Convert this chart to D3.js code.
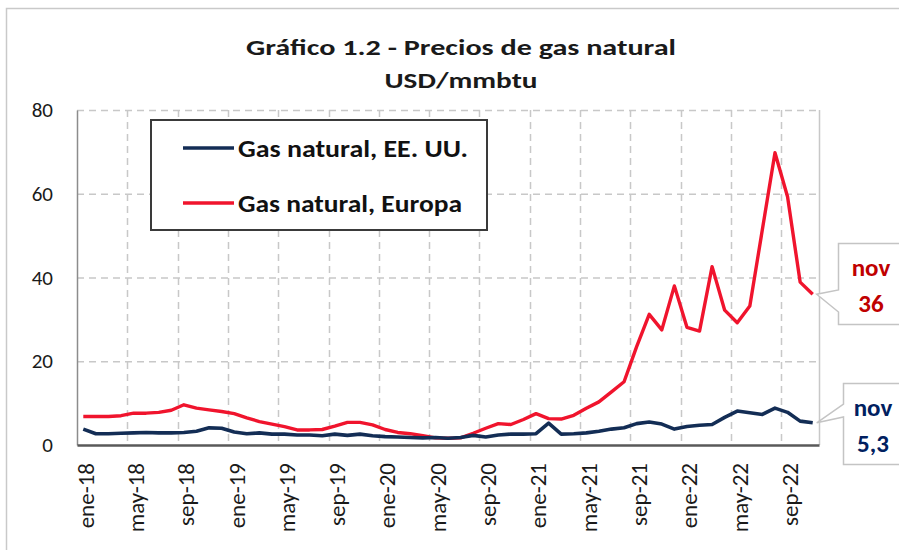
<!DOCTYPE html>
<html>
<head>
<meta charset="utf-8">
<script src="https://cdn.jsdelivr.net/npm/d3@7"></script>
<style>
  html, body { margin: 0; padding: 0; background: #ffffff; }
  svg { display: block; }
  text { font-family: Carlito, Lato, "Open Sans", sans-serif; }
</style>
</head>
<body>
<svg id="chart" width="899" height="550"></svg>
<script>
const categories = [
  "ene-18","feb-18","mar-18","abr-18","may-18","jun-18","jul-18","ago-18","sep-18","oct-18","nov-18","dic-18",
  "ene-19","feb-19","mar-19","abr-19","may-19","jun-19","jul-19","ago-19","sep-19","oct-19","nov-19","dic-19",
  "ene-20","feb-20","mar-20","abr-20","may-20","jun-20","jul-20","ago-20","sep-20","oct-20","nov-20","dic-20",
  "ene-21","feb-21","mar-21","abr-21","may-21","jun-21","jul-21","ago-21","sep-21","oct-21","nov-21","dic-21",
  "ene-22","feb-22","mar-22","abr-22","may-22","jun-22","jul-22","ago-22","sep-22","oct-22","nov-22"
];
const gasEEUU = [
  3.8, 2.7, 2.7, 2.8, 2.9, 3.0, 2.9, 2.9, 3.0, 3.3, 4.1, 4.0,
  3.1, 2.7, 2.9, 2.6, 2.6, 2.4, 2.4, 2.2, 2.6, 2.3, 2.6, 2.2,
  2.0, 1.9, 1.8, 1.7, 1.8, 1.6, 1.8, 2.3, 1.9, 2.4, 2.6, 2.6,
  2.7, 5.2, 2.6, 2.7, 2.9, 3.3, 3.8, 4.1, 5.1, 5.5, 5.0, 3.8,
  4.4, 4.7, 4.9, 6.6, 8.1, 7.7, 7.3, 8.8, 7.8, 5.7, 5.3
];
const gasEuropa = [
  6.8, 6.8, 6.8, 7.0, 7.6, 7.6, 7.8, 8.3, 9.6, 8.8, 8.4, 8.0,
  7.5, 6.5, 5.6, 5.0, 4.4, 3.6, 3.6, 3.7, 4.5, 5.4, 5.4, 4.8,
  3.7, 3.0, 2.7, 2.2, 1.7, 1.6, 1.7, 2.8, 4.0, 5.1, 4.9, 6.1,
  7.5, 6.3, 6.2, 7.1, 8.8, 10.3, 12.7, 15.1, 23.5, 31.2, 27.5, 38.0,
  28.1, 27.2, 42.6, 32.2, 29.2, 33.2, 51.5, 69.8, 59.3, 38.9, 36.0
];
const tickLabels = ["ene-18","may-18","sep-18","ene-19","may-19","sep-19","ene-20","may-20","sep-20","ene-21","may-21","sep-21","ene-22","may-22","sep-22"];
const yTicks = [0, 20, 40, 60, 80];
const seriesNames = ["Gas natural, EE. UU.", "Gas natural, Europa"];
const title1 = "Gráfico 1.2 - Precios de gas natural";
const title2 = "USD/mmbtu";
const lastLabels = [["nov", "5,3"], ["nov", "36"]];

const colUS = "#132d55", colEU = "#f0142d";
const svg = d3.select("#chart");

// outer frame
svg.append("rect").attr("x", 6.5).attr("y", 8.5).attr("width", 1000).attr("height", 1000)
  .attr("fill", "none").attr("stroke", "#c9c9c9").attr("stroke-width", 1.5);

const L = 77, R = 819, T = 110, B = 445;
const x = d3.scaleBand().domain(categories).range([L, R]).paddingInner(0).paddingOuter(0);
const y = d3.scaleLinear().domain([0, 80]).range([B, T]);
const cx = d => x(d) + x.bandwidth() / 2;

// title
svg.append("text").attr("x", 461).attr("y", 55).attr("text-anchor", "middle")
  .attr("font-size", 23).attr("font-weight", "bold").attr("fill", "#1a1a1a")
  .attr("textLength", 430).attr("lengthAdjust", "spacingAndGlyphs").text(title1);
svg.append("text").attr("x", 461).attr("y", 88).attr("text-anchor", "middle")
  .attr("font-size", 23).attr("font-weight", "bold").attr("fill", "#1a1a1a")
  .attr("textLength", 153).attr("lengthAdjust", "spacingAndGlyphs").text(title2);

// horizontal grid
svg.append("g").selectAll("line").data(yTicks.filter(v => v > 0)).join("line")
  .attr("x1", L).attr("x2", R).attr("y1", d => y(d) + 0.5).attr("y2", d => y(d) + 0.5)
  .attr("stroke", "#c8c8c8").attr("stroke-width", 1.5).attr("stroke-dasharray", "7,5");
// vertical grid
const vgrid = categories.filter((c, i) => i > 0 && i % 4 === 0);
svg.append("g").selectAll("line").data(vgrid).join("line")
  .attr("x1", d => Math.round(x(d)) + 0.5).attr("x2", d => Math.round(x(d)) + 0.5)
  .attr("y1", T).attr("y2", B)
  .attr("stroke", "#c8c8c8").attr("stroke-width", 1.5).attr("stroke-dasharray", "7,5");
// right border
svg.append("line").attr("x1", R + 0.5).attr("x2", R + 0.5).attr("y1", T).attr("y2", B)
  .attr("stroke", "#c8c8c8").attr("stroke-width", 1.5);

// y axis
const yAxis = svg.append("g").attr("transform", `translate(${L},0)`)
  .call(d3.axisLeft(y).tickValues(yTicks).tickSize(0).tickPadding(24).tickFormat(d3.format("d")));
yAxis.select(".domain").attr("stroke", "#8c8c8c").attr("stroke-width", 1.5);
yAxis.selectAll("text").attr("font-size", 21).attr("fill", "#1a1a1a")
  .style("font-family", "Carlito, Lato, sans-serif");

// x axis
const xAxis = svg.append("g").attr("transform", `translate(0,${B})`)
  .call(d3.axisBottom(x).tickValues(tickLabels).tickSize(0));
xAxis.select(".domain").attr("stroke", "#595959").attr("stroke-width", 2.5);
xAxis.selectAll("text")
  .attr("transform", "rotate(-90)")
  .attr("text-anchor", "end")
  .attr("x", -18).attr("y", 0).attr("dy", "0.45em").attr("dx", 0)
  .attr("font-size", 23).attr("fill", "#1a1a1a")
  .style("font-family", "Carlito, Lato, sans-serif");

// lines
const line = d3.line().x((d, i) => cx(categories[i])).y(d => y(d));
svg.append("path").datum(gasEuropa).attr("d", line).attr("fill", "none")
  .attr("stroke", colEU).attr("stroke-width", 3.4).attr("stroke-linejoin", "round");
svg.append("path").datum(gasEEUU).attr("d", line).attr("fill", "none")
  .attr("stroke", colUS).attr("stroke-width", 3.6).attr("stroke-linejoin", "round");

// legend
const legendLens = [230, 224];
const lg = svg.append("g");
lg.append("rect").attr("x", 151).attr("y", 120).attr("width", 336).attr("height", 110)
  .attr("fill", "#ffffff").attr("stroke", "#3a3a3a").attr("stroke-width", 2);
[[colUS, 148], [colEU, 203]].forEach(([c, yy], i) => {
  lg.append("line").attr("x1", 183).attr("x2", 234).attr("y1", yy).attr("y2", yy)
    .attr("stroke", c).attr("stroke-width", 3.5);
  lg.append("text").attr("x", 238).attr("y", yy).attr("dy", "0.36em")
    .attr("font-size", 24).attr("font-weight", "bold").attr("fill", "#111")
    .attr("textLength", legendLens[i]).attr("lengthAdjust", "spacingAndGlyphs")
    .text(seriesNames[i]);
});

// callouts
function callout(path, color, labels, tx, ty) {
  svg.append("path").attr("d", path).attr("fill", "#ffffff")
    .attr("stroke", "#c4c4c4").attr("stroke-width", 1.5);
  labels.forEach((t, i) => {
    svg.append("text").attr("x", tx).attr("y", ty + i * 36).attr("text-anchor", "middle")
      .attr("font-size", 25).attr("font-weight", "bold").attr("fill", color).text(t);
  });
}
const lastIdx = categories.length - 1;
const pEU = [cx(categories[lastIdx]) + 4, y(gasEuropa[lastIdx])];
const pUS = [cx(categories[lastIdx]) + 4, y(gasEEUU[lastIdx])];
callout(`M838.5,243.5 H910 V324.5 H838.5 V312 L${pEU[0]},${pEU[1]} L838.5,290 Z`, "#c00000", lastLabels[1], 871, 276);
callout(`M843.5,383.5 H910 V464.5 H843.5 V417 L${pUS[0]},${pUS[1]} L843.5,404 Z`, "#002060", lastLabels[0], 873, 416);
</script>
</body>
</html>
